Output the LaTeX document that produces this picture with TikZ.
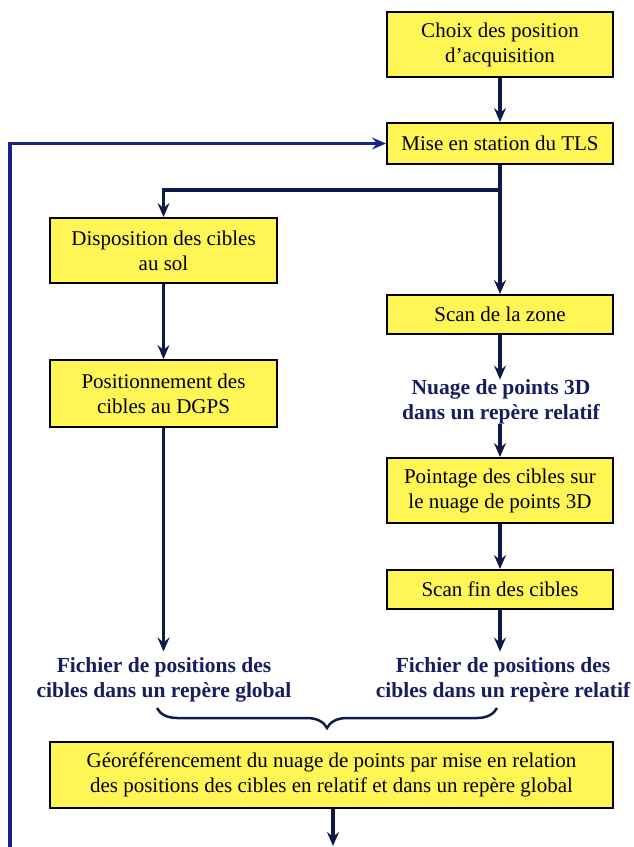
\documentclass[tikz,border=0pt]{standalone}
\usepackage{fontspec}
\setmainfont{Liberation Serif}
\usetikzlibrary{arrows.meta,decorations.pathreplacing}
\definecolor{boxyellow}{RGB}{255,245,85}
\definecolor{arrcol}{RGB}{15,25,75}
\definecolor{loopcol}{RGB}{25,35,135}
\definecolor{bluetext}{RGB}{22,30,95}
\tikzset{
  procbox/.style={draw=black, line width=2pt, fill=boxyellow, align=center,
    inner sep=0pt, font=\fontsize{21}{25}\selectfont},
  outtext/.style={align=center, inner sep=0pt, text=bluetext,
    font=\fontsize{21.5}{25}\selectfont\bfseries},
  arr/.style={draw=arrcol, line width=3.5pt,
    -{Stealth[length=14pt,width=12pt,inset=5pt]}},
  looparr/.style={draw=loopcol, line width=3.5pt,
    -{Stealth[length=14pt,width=12pt,inset=5pt]}},
}
\begin{document}
\begin{tikzpicture}[x=1pt,y=-1pt]
\useasboundingbox (0,0) rectangle (634,847);
\node[procbox, minimum width=226, minimum height=65] (choix) at (500,44.5) {Choix des position\\d'acquisition};
\node[procbox, minimum width=226, minimum height=41] (tls) at (500,143.5) {Mise en station du TLS};
\node[procbox, minimum width=227, minimum height=65] (disp) at (163.5,250.5) {Disposition des cibles\\au sol};
\node[procbox, minimum width=227, minimum height=67] (pos) at (163.5,393.5) {Positionnement des\\cibles au DGPS};
\node[procbox, minimum width=226, minimum height=39] (scan) at (500,314.5) {Scan de la zone};
\node[outtext] (nuage) at (501,402) {Nuage de points 3D\\dans un repère relatif};
\node[procbox, minimum width=226, minimum height=65] (point) at (500,490.5) {Pointage des cibles sur\\le nuage de points 3D};
\node[procbox, minimum width=226, minimum height=39] (scanfin) at (500,589.5) {Scan fin des cibles};
\node[outtext] (fichg) at (164,680) {Fichier de positions des\\cibles dans un repère global};
\node[outtext] (fichr) at (503,680) {Fichier de positions des\\cibles dans un repère relatif};
\node[procbox, minimum width=563, minimum height=66] (geo) at (331.5,775) {Géoréférencement du nuage de points par mise en relation\\des positions des cibles en relatif et dans un repère global};

\coordinate (br) at (500,190);
\coordinate (loopb) at (10,850);
\coordinate (geoend) at (333,846);
\coordinate (bl) at (157,708);
\coordinate (brr) at (497,708);

\draw[arr] (choix) -- (tls);
\draw[arr] (tls.south) -- (br) -| (disp.north);
\draw[arr] (br) -- (scan.north);
\draw[arr] (disp) -- (pos);
\draw[arr] (scan.south) -- (scan.south |- nuage.north);
\draw[arr] (scan.south |- nuage.south) -- (point.north);
\draw[arr] (point) -- (scanfin);
\draw[arr] (pos.south) -- ([yshift=6pt]pos.south |- fichg.north);
\draw[arr] (scanfin.south) -- ([yshift=6pt]scanfin.south |- fichr.north);
\draw[arr] (geo.south -| geoend) -- (geoend);
\draw[looparr] (loopb) |- (tls.west);
\draw[draw=arrcol, line width=2.5pt, decorate, decoration={brace, amplitude=20pt, mirror}] (bl) -- (brr);
\end{tikzpicture}
\end{document}
